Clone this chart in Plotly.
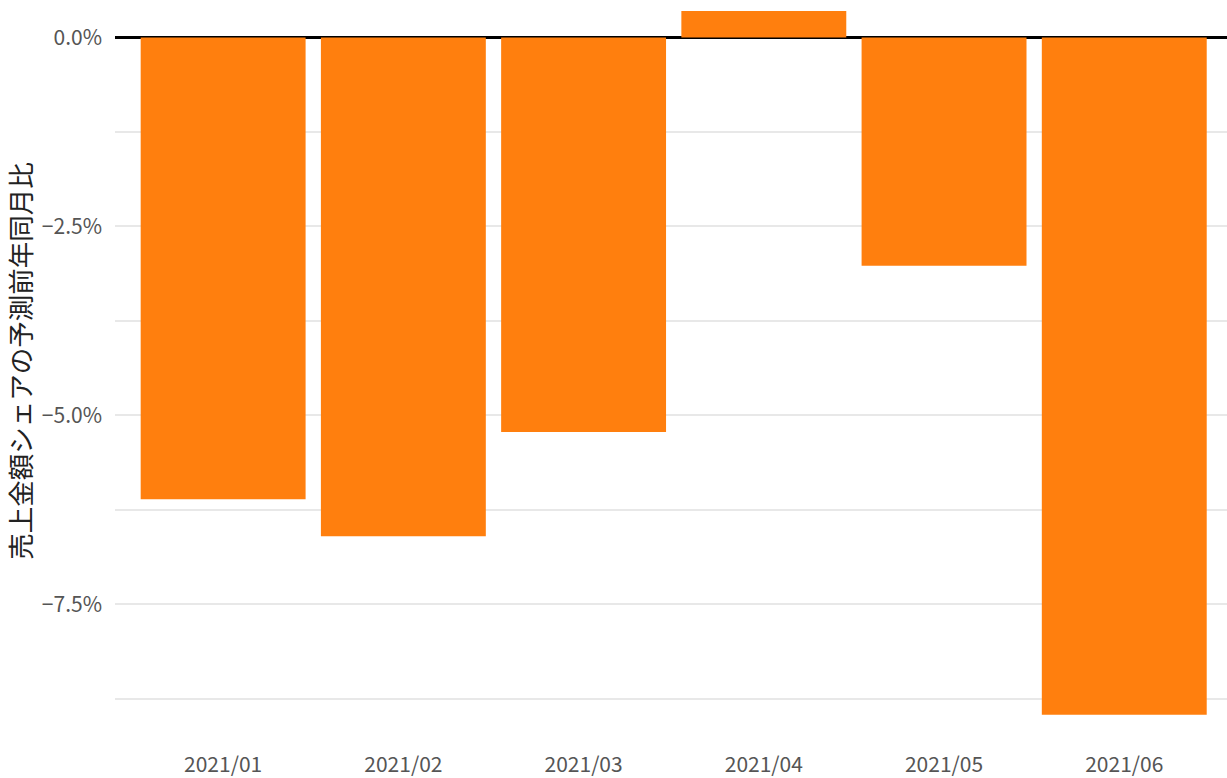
import plotly.graph_objects as go

months = ["2021/01", "2021/02", "2021/03", "2021/04", "2021/05", "2021/06"]
yoy_change = [-6.11, -6.60, -5.22, 0.35, -3.02, -8.96]

FONT = "Noto Sans CJK JP"

fig = go.Figure(
    go.Bar(
        x=months,
        y=yoy_change,
        marker=dict(color="#ff7f0e", line=dict(width=0)),
        hovertemplate="%{x}: %{y:.1f}%<extra></extra>",
    )
)

fig.update_layout(
    width=1227,
    height=778,
    plot_bgcolor="white",
    paper_bgcolor="white",
    margin=dict(l=115, r=0, t=2, b=58, autoexpand=False),
    bargap=0.085,
    showlegend=False,
    font=dict(family=FONT, size=17, color="#555555"),
)

fig.update_xaxes(
    type="category",
    range=[-0.6, 5.57],
    showgrid=False,
    showline=False,
    ticks="",
    automargin=False,
    ticklabelstandoff=30,
    tickfont=dict(family=FONT, size=21, color="#555555"),
)

fig.update_yaxes(
    range=[-9.03, 0.47],
    dtick=2.5,
    tick0=0,
    tickformat=".1f",
    ticksuffix="%",
    showgrid=True,
    gridcolor="#e8e8e8",
    gridwidth=1.5,
    minor=dict(dtick=1.25, tick0=0, showgrid=True, gridcolor="#e8e8e8", gridwidth=1.5),
    zeroline=True,
    zerolinecolor="black",
    zerolinewidth=2.5,
    showline=False,
    ticks="",
    automargin=False,
    ticklabelstandoff=12,
    tickfont=dict(family=FONT, size=21, color="#555555"),
    title=dict(text="売上金額シェアの予測前年同月比", font=dict(family=FONT, size=26.5, color="#222222"), standoff=12),
)

fig.write_html(
    "out.html",
    config={"displayModeBar": False},
    post_script="document.body.style.margin='0';",
)
